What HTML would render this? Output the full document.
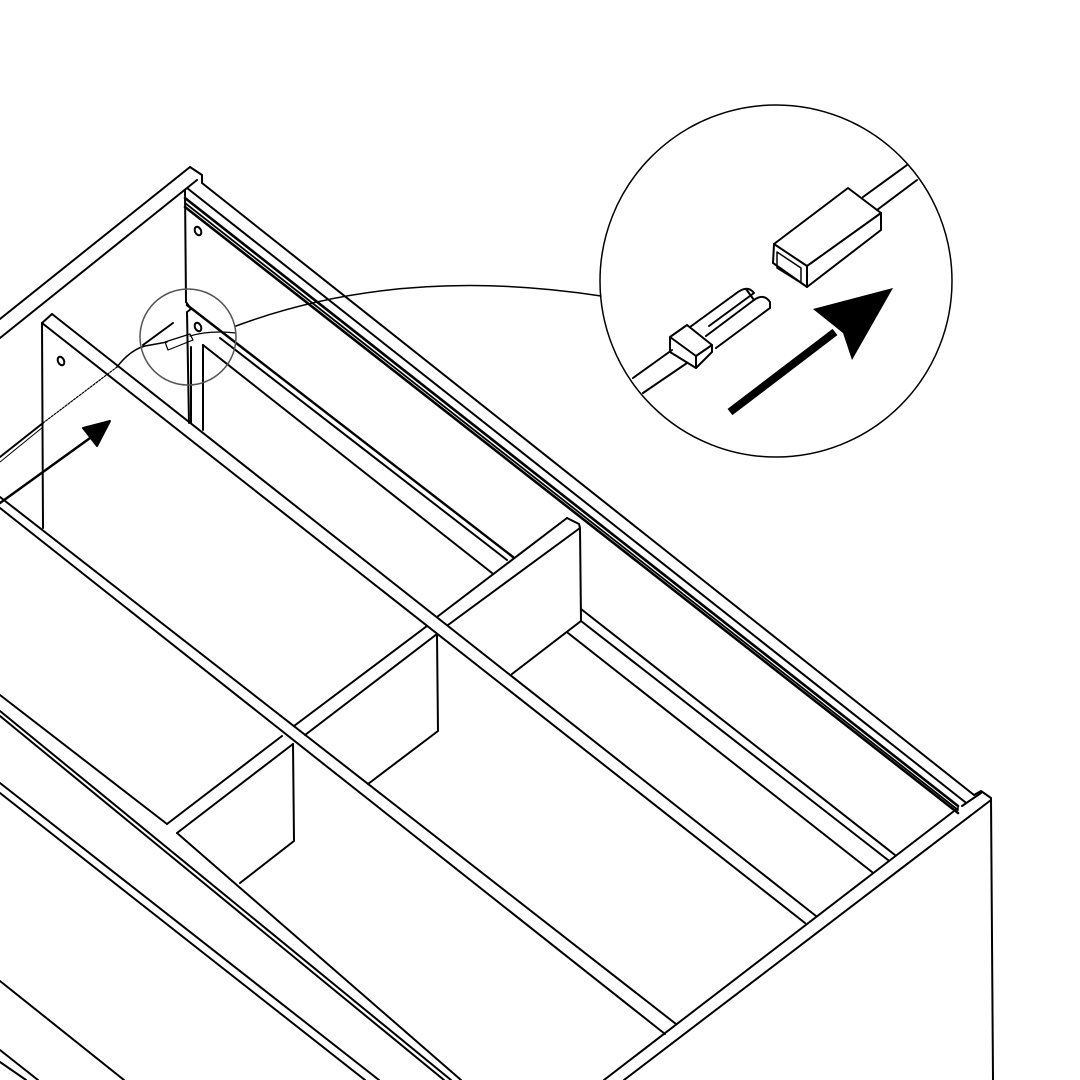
<!DOCTYPE html>
<html><head><meta charset="utf-8"><style>html,body{margin:0;padding:0;background:#fff}svg{display:block}</style></head>
<body>
<svg width="1080" height="1080" viewBox="0 0 1080 1080" xmlns="http://www.w3.org/2000/svg">
<g fill="none" stroke="#000" stroke-width="2" stroke-linejoin="round" stroke-linecap="round">
<!-- left side panel top -->
<line x1="0" y1="319" x2="190" y2="167"/>
<line x1="0" y1="338" x2="197" y2="180"/>
<polyline points="190,167 202,175 202,183"/>
<!-- right side panel top -->
<line x1="202" y1="183" x2="974" y2="795"/>
<line x1="187" y1="188" x2="965" y2="802"/>
<line x1="185" y1="198" x2="958" y2="806" stroke-width="2.6"/>
<line x1="185" y1="203" x2="958" y2="810" stroke-width="1.8"/>
<line x1="185" y1="207" x2="958" y2="813" stroke-width="2.6"/>
<!-- back panel vertical -->
<line x1="185" y1="190" x2="186" y2="302"/>
<polyline points="186,302 191,309 187,312"/>
<line x1="187" y1="312" x2="189" y2="423"/>
<line x1="191" y1="347" x2="191" y2="423"/>
<line x1="203" y1="345" x2="203" y2="430"/>
<ellipse cx="198" cy="231" rx="3" ry="4.5" transform="rotate(-25 198 231)"/>
<ellipse cx="198" cy="327" rx="3" ry="4.5" transform="rotate(-25 198 327)"/>
<!-- back rails -->
<line x1="187" y1="305" x2="513" y2="557" stroke-width="2.4"/>
<line x1="220" y1="338" x2="507" y2="560"/>
<line x1="581" y1="609" x2="895" y2="855"/>
<line x1="581" y1="621" x2="888" y2="860"/>
<line x1="203" y1="345" x2="492" y2="573"/>
<line x1="568" y1="633" x2="872" y2="872"/>
<!-- right front panel -->
<polyline points="974,795 981,791 991,798 993,1080"/>
<line x1="991" y1="800" x2="624" y2="1080"/>
<line x1="981" y1="793" x2="962" y2="806"/>
<line x1="958" y1="808" x2="604" y2="1080"/>
<!-- long divider -->
<polyline points="43,528 42,323 52,314"/>
<line x1="52" y1="314" x2="816" y2="916"/>
<line x1="42" y1="323" x2="805" y2="923"/>
<ellipse cx="61" cy="361" rx="3" ry="4.5" transform="rotate(-25 61 361)"/>
<!-- long members a,b -->
<line x1="0" y1="497" x2="676" y2="1024"/>
<line x1="0" y1="508" x2="665" y2="1034"/>
<!-- transverse -->
<line x1="167" y1="824" x2="282" y2="736"/>
<line x1="177" y1="833" x2="293" y2="744"/>
<line x1="294" y1="726" x2="427" y2="626"/>
<line x1="305" y1="735" x2="437" y2="634"/>
<line x1="437" y1="617" x2="567" y2="518"/>
<line x1="448" y1="625" x2="580" y2="528"/>
<polyline points="567,518 579,524 580,528 581,621 512,674"/>
<polyline points="437,635 438,731 368,784"/>
<polyline points="293,744 294,841 240,883"/>
<!-- lower left lines -->
<line x1="0" y1="695" x2="167" y2="824"/>
<line x1="177" y1="833" x2="461" y2="1080"/>
<line x1="0" y1="711" x2="451" y2="1080"/>
<line x1="0" y1="716" x2="444" y2="1080"/>
<line x1="0" y1="783" x2="379" y2="1080"/>
<line x1="0" y1="793" x2="365" y2="1080"/>
<line x1="0" y1="981" x2="124" y2="1080"/>
<line x1="0" y1="1050" x2="38" y2="1080"/>
<line x1="0" y1="1062" x2="26" y2="1080"/>
<!-- wire -->
<line x1="0" y1="457" x2="43" y2="423"/>
<line x1="0" y1="462" x2="43" y2="427" stroke-width="1"/>
<line x1="43" y1="423" x2="117" y2="367" stroke-width="1.2" stroke-dasharray="2,1.5"/>
<path d="M117,367 Q130,350 145,346 L167,342" stroke-width="1.5"/>
<line x1="143" y1="345" x2="173" y2="323" stroke-width="2"/>
<polygon points="165,342 190,334 193,340 168,350" stroke-width="1.2"/>
<path d="M190,336 Q210,330 236,333" stroke-width="1.2"/>
<!-- small arrow -->
<line x1="0" y1="503" x2="97" y2="433" stroke-width="2.5"/>
<polygon points="110,421 83,428 97,446" fill="#000"/>
<!-- highlight circle -->
<circle cx="188" cy="337" r="48" stroke="#555" stroke-width="1.5"/>
<path d="M236,326 Q400,265 601,296" stroke-width="1.5"/>
<!-- big circle -->
<circle cx="776" cy="281" r="176" stroke-width="1.5"/>
<line x1="863" y1="197" x2="907" y2="165"/>
<line x1="877" y1="210" x2="917" y2="180"/>
<polygon points="774,244 848,188 881,213 881,230 807,287 773,263"/>
<polyline points="774,244 807,266 881,213"/>
<line x1="807" y1="266" x2="807" y2="287"/>
<polyline points="777,252 801,268 801,283 777,268 777,252" stroke-width="1.5"/>
<line x1="633" y1="378" x2="672" y2="350"/>
<line x1="643" y1="393" x2="687" y2="363"/>
<polygon points="670,337 687,325 712,345 712,352 696,368 670,352"/>
<polyline points="670,337 696,356 712,345"/>
<line x1="696" y1="356" x2="696" y2="368"/>
<!-- prongs -->
<path d="M690,327 L738,292 Q748,285 754,293 L709,326"/>
<path d="M706,336 L754,300 Q764,293 770,302 L770,308 L716,348"/>
<line x1="746" y1="289" x2="754" y2="300"/>
<line x1="730" y1="412" x2="835" y2="332" stroke-width="8" stroke-linecap="butt"/>
<polygon points="893,288 813,309 843,333 852,360" fill="#000" stroke="none"/>
</g>
</svg>
</body></html>
